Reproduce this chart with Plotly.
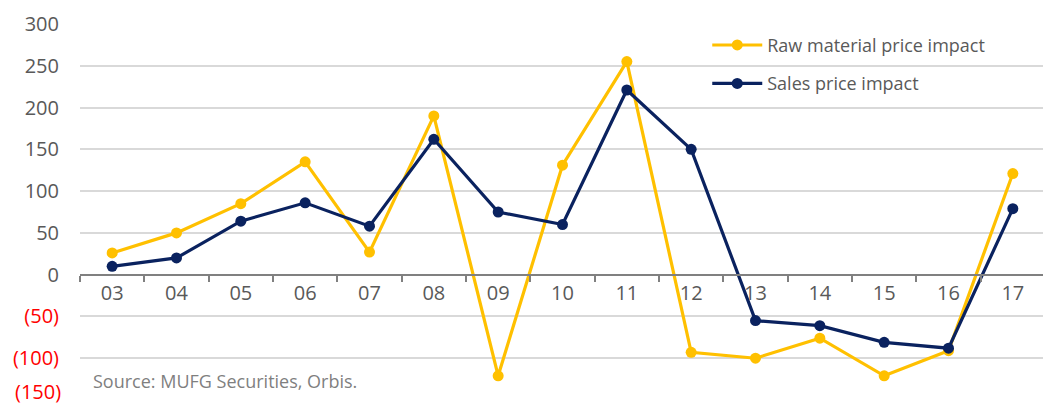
import plotly.graph_objects as go

years = ["03", "04", "05", "06", "07", "08", "09", "10", "11", "12", "13", "14", "15", "16", "17"]
raw_material = [26, 50, 85, 135, 27, 190, -121, 131, 255, -93, -100, -76, -121, -91, 121]
sales_price = [10, 20, 64, 86, 58, 162, 75, 60, 221, 150, -55, -61, -81, -88, 79]
y_tick_vals = [300, 250, 200, 150, 100, 50, 0, -50, -100, -150]
y_tick_text = ["300", "250", "200", "150", "100", "50", "0",
               "(50)", "(100)", "(150)"]

YELLOW = "#FFC000"
NAVY = "#0A225F"
GREY = "#595959"
RED = "#FF0000"
FONT = "'Open Sans', Lato, sans-serif"

ymin, ymax = -150, 300

# bottom-most tick label sits on the page edge; draw it as a label nudged up
tick_text_html = []
for v, t in zip(y_tick_vals, y_tick_text):
    if v == ymin:
        tick_text_html.append("")
    elif v < 0:
        tick_text_html.append(f'<span style="color:{RED}">{t}</span>')
    else:
        tick_text_html.append(t)

fig = go.Figure()
fig.add_trace(go.Scatter(
    x=years, y=raw_material, name="Raw material price impact",
    mode="lines+markers", line=dict(color=YELLOW, width=3.2),
    marker=dict(color=YELLOW, size=11), legendgroup="a",
))
fig.add_trace(go.Scatter(
    x=years, y=sales_price, name="Sales price impact",
    mode="lines+markers", line=dict(color=NAVY, width=3.2),
    marker=dict(color=NAVY, size=11), legendgroup="b",
))

# page body has an 8px default margin, so the figure is 8px smaller and offset
fig.update_layout(
    width=1043, height=401,
    margin=dict(l=72, r=6, t=15, b=8, autoexpand=False),
    paper_bgcolor="white", plot_bgcolor="white",
    font=dict(family=FONT, color=GREY, size=19),
    showlegend=True,
    legend=dict(
        x=0.65, y=0.99, xanchor="left", yanchor="top",
        bgcolor="rgba(0,0,0,0)", font=dict(size=18, color=GREY, family=FONT),
        tracegroupgap=12, itemwidth=50,
    ),
    xaxis=dict(
        type="category", anchor="free", automargin=False,
        position=(0 - ymin) / (ymax - ymin),
        showline=True, linecolor="#808080", linewidth=2,
        ticks="outside", ticklen=6, tickwidth=1.5, tickcolor="#808080",
        tickson="boundaries", showgrid=False, zeroline=False,
        tickfont=dict(size=20, color=GREY, family=FONT),
        range=[-0.5, 14.5],
    ),
    yaxis=dict(
        range=[ymin - 1.2, ymax + 1.2], automargin=False,
        tickvals=y_tick_vals, ticktext=tick_text_html,
        showgrid=True, gridcolor="#D9D9D9", gridwidth=1.6,
        zeroline=False, showline=False,
        ticks="", ticklabelstandoff=20,
        tickfont=dict(size=20, color=GREY, family=FONT),
    ),
    annotations=[
        dict(
            text="Source: MUFG Securities, Orbis.",
            xref="paper", yref="paper", x=0.011, y=0.053,
            xanchor="left", yanchor="middle", showarrow=False,
            font=dict(size=18, color="#7F7F7F", family=FONT),
        ),
        dict(
            text=y_tick_text[-1], xref="paper", yref="y",
            x=0, y=y_tick_vals[-1], xanchor="right", yanchor="bottom",
            xshift=-18, yshift=-6, showarrow=False, borderpad=0,
            font=dict(size=20, color=RED, family=FONT),
        ),
    ],
)

fig.write_html("out.html")
